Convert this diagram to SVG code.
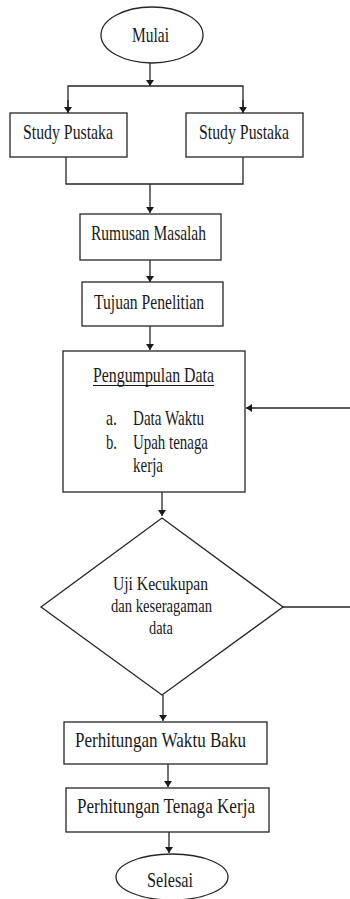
<svg xmlns="http://www.w3.org/2000/svg" width="350" height="899" viewBox="0 0 350 899">
<style>
.s{fill:#fff;stroke:#262626;stroke-width:1.3}
.c{fill:none;stroke:#262626;stroke-width:1.3}
text{font-family:"Liberation Serif","Times New Roman",serif;font-size:21px;fill:#1a1a1a}
.d{font-size:19px}
</style>
<defs>
<marker id="ah" viewBox="0 0 10 10" refX="10" refY="5" markerWidth="6" markerHeight="8" markerUnits="userSpaceOnUse" orient="auto" preserveAspectRatio="none">
<path d="M0,0 L10,5 L0,10 Z" fill="#1a1a1a"/>
</marker>
</defs>
<rect width="350" height="899" fill="#fff"/>
<g id="connectors">
<line class="c" x1="150" y1="63" x2="150" y2="86" marker-end="url(#ah)"/>
<polyline class="c" points="68,113 68,86 243,86 243,113"/>
<line class="c" x1="68" y1="100" x2="68" y2="113" marker-end="url(#ah)"/>
<line class="c" x1="243" y1="100" x2="243" y2="113" marker-end="url(#ah)"/>
<polyline class="c" points="66,157 66,184 243,184 243,157"/>
<line class="c" x1="150" y1="184" x2="150" y2="213" marker-end="url(#ah)"/>
<line class="c" x1="150" y1="260" x2="150" y2="282" marker-end="url(#ah)"/>
<line class="c" x1="150" y1="326" x2="150" y2="350" marker-end="url(#ah)"/>
<line class="c" x1="162" y1="492" x2="162" y2="516" marker-end="url(#ah)"/>
<line class="c" x1="350" y1="408" x2="246" y2="408" marker-end="url(#ah)"/>
<line class="c" x1="283" y1="607" x2="350" y2="607"/>
<line class="c" x1="163" y1="695" x2="163" y2="721" marker-end="url(#ah)"/>
<line class="c" x1="168" y1="764" x2="168" y2="787" marker-end="url(#ah)"/>
<line class="c" x1="169" y1="832" x2="169" y2="853" marker-end="url(#ah)"/>
</g>
<g id="mulai">
<ellipse class="s" cx="152" cy="35" rx="51" ry="28"/>
<text x="132" y="42" textLength="37" lengthAdjust="spacingAndGlyphs">Mulai</text>
</g>
<g id="study1">
<rect class="s" x="10" y="113" width="117" height="44"/>
<text x="23" y="139" textLength="90" lengthAdjust="spacingAndGlyphs">Study Pustaka</text>
</g>
<g id="study2">
<rect class="s" x="186" y="113" width="117" height="44"/>
<text x="199" y="139" textLength="90" lengthAdjust="spacingAndGlyphs">Study Pustaka</text>
</g>
<g id="rumusan">
<rect class="s" x="80" y="214" width="141" height="46"/>
<text x="91" y="240" textLength="115" lengthAdjust="spacingAndGlyphs">Rumusan Masalah</text>
</g>
<g id="tujuan">
<rect class="s" x="82" y="282" width="141" height="44"/>
<text x="94" y="309" textLength="110" lengthAdjust="spacingAndGlyphs">Tujuan Penelitian</text>
</g>
<g id="pengumpulan">
<rect class="s" x="63" y="351" width="182" height="141"/>
<text x="93" y="382" textLength="121" lengthAdjust="spacingAndGlyphs">Pengumpulan Data</text>
<line x1="93" y1="385.5" x2="214" y2="385.5" stroke="#1a1a1a" stroke-width="1"/>
<text x="106" y="425" textLength="11" lengthAdjust="spacingAndGlyphs">a.</text>
<text x="133" y="425" textLength="71" lengthAdjust="spacingAndGlyphs">Data Waktu</text>
<text x="106" y="449" textLength="11" lengthAdjust="spacingAndGlyphs">b.</text>
<text x="133" y="449" textLength="75" lengthAdjust="spacingAndGlyphs">Upah tenaga</text>
<text x="133" y="472" textLength="30" lengthAdjust="spacingAndGlyphs">kerja</text>
</g>
<g id="uji">
<polygon class="s" points="162,518 283,607 162,695 41,607"/>
<text class="d" x="113" y="590" textLength="95" lengthAdjust="spacingAndGlyphs">Uji Kecukupan</text>
<text class="d" x="111" y="612" textLength="101" lengthAdjust="spacingAndGlyphs">dan keseragaman</text>
<text class="d" x="149" y="634" textLength="24" lengthAdjust="spacingAndGlyphs">data</text>
</g>
<g id="waktubaku">
<rect class="s" x="64" y="722" width="203" height="42"/>
<text x="75" y="747" textLength="171" lengthAdjust="spacingAndGlyphs">Perhitungan Waktu Baku</text>
</g>
<g id="tenagakerja">
<rect class="s" x="66" y="788" width="203" height="44"/>
<text x="77" y="813" textLength="178" lengthAdjust="spacingAndGlyphs">Perhitungan Tenaga Kerja</text>
</g>
<g id="selesai">
<ellipse class="s" cx="172" cy="877" rx="56" ry="23"/>
<text x="147" y="887" textLength="46" lengthAdjust="spacingAndGlyphs">Selesai</text>
</g>
</svg>
